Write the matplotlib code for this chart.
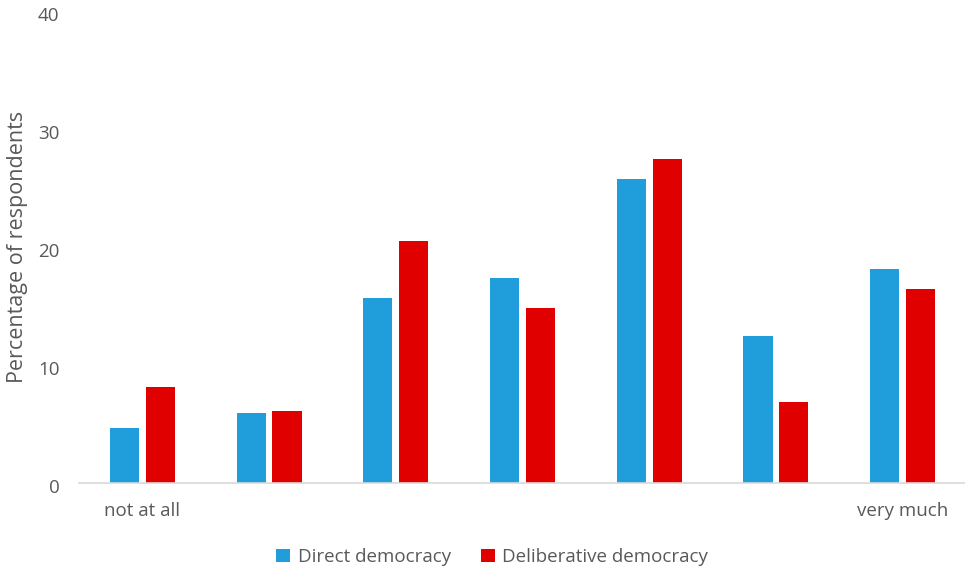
import matplotlib
matplotlib.use("Agg")
import matplotlib.pyplot as plt
import matplotlib.transforms as mtransforms
import numpy as np

plt.rcParams['font.family'] = ['Open Sans', 'DejaVu Sans']

categories = ["not at all", "", "", "", "", "", "very much"]
direct = [4.7, 5.9, 15.7, 17.4, 25.8, 12.5, 18.1]
deliberative = [8.1, 6.1, 20.5, 14.8, 27.5, 6.9, 16.4]

text_color = '#595959'
blue = '#1f9edb'
red = '#e00000'
fs = 13.5

fig = plt.figure(figsize=(9.65, 5.71), dpi=100)
ax = fig.add_axes([79 / 965, 1 - 483 / 571, 887 / 965, (483 - 11) / 571])

x = np.arange(len(categories))
w = 0.23
ax.bar(x - 0.142, direct, w, color=blue, label='Direct democracy')
ax.bar(x + 0.142, deliberative, w, color=red, label='Deliberative democracy')

ax.set_xlim(-0.5, len(categories) - 0.5)
ax.set_ylim(0, 40)
ax.set_yticks([0, 10, 20, 30, 40])
ax.set_xticks(x)
ax.set_xticklabels(categories)
ax.tick_params(axis='both', length=0, labelsize=fs, colors=text_color)
ax.tick_params(axis='x', pad=14)
ax.tick_params(axis='y', pad=14)
# nudge y tick labels a bit lower, as in the original
shift = mtransforms.ScaledTranslation(0, -3 / 100, fig.dpi_scale_trans)
for lab in ax.get_yticklabels():
    lab.set_transform(lab.get_transform() + shift)
for s in ['top', 'right', 'left']:
    ax.spines[s].set_visible(False)
ax.spines['bottom'].set_color('#d9d9d9')
ax.spines['bottom'].set_linewidth(1.2)

ax.set_ylabel('Percentage of respondents', fontsize=15.5, color=text_color, labelpad=7)

leg = fig.legend(loc='center', bbox_to_anchor=(0.51, 1 - 557 / 571), ncol=2, frameon=False,
                 fontsize=fs, handlelength=0.75, handleheight=0.75, handletextpad=0.4,
                 columnspacing=1.6)
for t in leg.get_texts():
    t.set_color(text_color)

fig.savefig('out.png', dpi=100)
